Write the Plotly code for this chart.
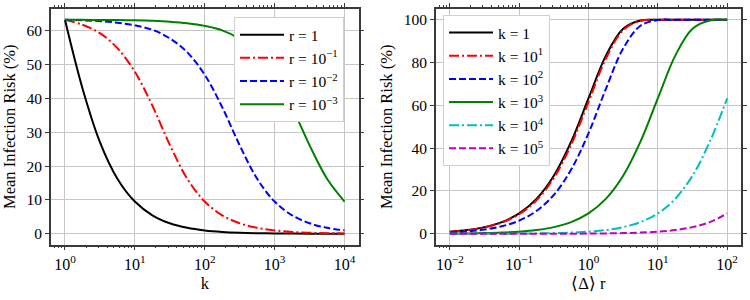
import plotly.graph_objects as go

# ---------------- data ----------------
K_VALUES = [1, 1.778, 3.162, 5.623, 10, 17.78, 31.62, 56.23, 100, 177.8, 316.2,
            562.3, 1000, 1778, 3162, 5623, 10000]
RISK_R1 = [63.21, 43.01, 27.11, 16.29, 9.52, 5.47, 3.11, 1.76, 0.995, 0.561, 0.316,
           0.178, 0.0999, 0.0562, 0.0316, 0.0178, 0.0100]
RISK_R1E1 = [63.21, 61.74, 59.27, 54.84, 47.86, 37.87, 26.28, 16.25, 9.52, 5.47, 3.11,
             1.76, 0.995, 0.561, 0.316, 0.178, 0.0999]
RISK_R1E2 = [63.21, 63.07, 62.81, 62.36, 61.56, 60.25, 57.73, 53.59, 46.95, 37.39, 26.14,
             16.24, 9.52, 5.47, 3.11, 1.76, 0.995]
RISK_R1E3 = [63.21, 63.20, 63.17, 63.13, 63.05, 62.90, 62.65, 62.20, 61.41, 60.10, 57.59,
             53.47, 46.86, 37.34, 26.13, 16.24, 9.52]
LEFT_NAMES = ["r = 1", "r = 10<sup>\u22121</sup>", "r = 10<sup>\u22122</sup>", "r = 10<sup>\u22123</sup>"]

DR_VALUES = [0.01, 0.01778, 0.03162, 0.05623, 0.1, 0.1778, 0.3162, 0.5623, 1, 1.778,
             3.162, 5.623, 10, 17.78, 31.62, 56.23, 100]
RISK_K1 = [0.995, 1.763, 3.113, 5.468, 9.516, 16.29, 27.11, 43.01, 63.21, 83.11,
           95.77, 99.64, 99.995, 100, 100, 100, 100]
RISK_K1E1 = [0.952, 1.686, 2.978, 5.235, 9.119, 15.64, 26.09, 41.59, 61.56, 81.74,
             95.14, 99.54, 99.99, 100, 100, 100, 100]
RISK_K1E2 = [0.632, 1.121, 1.985, 3.502, 6.143, 10.66, 18.17, 29.99, 46.95, 67.61,
             86.53, 97.17, 99.82, 100, 100, 100, 100]
RISK_K1E3 = [0.100, 0.178, 0.316, 0.561, 0.995, 1.763, 3.113, 5.468, 9.516, 16.29,
             27.11, 43.01, 63.21, 83.11, 95.77, 99.64, 99.995]
RISK_K1E4 = [0.010, 0.018, 0.032, 0.056, 0.100, 0.178, 0.316, 0.561, 0.995, 1.763,
             3.113, 5.468, 9.516, 16.29, 27.11, 43.01, 63.21]
RISK_K1E5 = [0.001, 0.002, 0.003, 0.006, 0.010, 0.018, 0.032, 0.056, 0.0999, 0.178,
             0.316, 0.561, 0.995, 1.763, 3.113, 5.468, 9.516]
RIGHT_NAMES = ["k = 1", "k = 10<sup>1</sup>", "k = 10<sup>2</sup>", "k = 10<sup>3</sup>",
               "k = 10<sup>4</sup>", "k = 10<sup>5</sup>"]

LEFT_TICKS = [1, 10, 100, 1000, 10000]
LEFT_TICKTEXT = ["10<sup>0</sup>", "10<sup>1</sup>", "10<sup>2</sup>", "10<sup>3</sup>", "10<sup>4</sup>"]
RIGHT_TICKS = [0.01, 0.1, 1, 10, 100]
RIGHT_TICKTEXT = ["10<sup>\u22122</sup>", "10<sup>\u22121</sup>", "10<sup>0</sup>", "10<sup>1</sup>", "10<sup>2</sup>"]

# ---------------- styles ----------------
FONT = "Liberation Serif"
DASHDOT = "10px,3px,2px,3px"
DASH = "7px,3px"
LEFT_STYLES = [("#000000", "solid"), ("#ff0000", DASHDOT), ("#0000ff", DASH), ("#008000", "solid")]
RIGHT_STYLES = [("#000000", "solid"), ("#ff0000", DASHDOT), ("#0000ff", DASH),
                ("#008000", "solid"), ("#00bfbf", DASHDOT), ("#bf00bf", DASH)]

fig = go.Figure()

for ys, name, (col, dash) in zip([RISK_R1, RISK_R1E1, RISK_R1E2, RISK_R1E3], LEFT_NAMES, LEFT_STYLES):
    fig.add_trace(go.Scatter(x=K_VALUES, y=ys, name=name, mode="lines",
                             line=dict(color=col, dash=dash, width=2, shape="spline", smoothing=1),
                             xaxis="x", yaxis="y", legend="legend"))

for ys, name, (col, dash) in zip([RISK_K1, RISK_K1E1, RISK_K1E2, RISK_K1E3, RISK_K1E4, RISK_K1E5],
                                 RIGHT_NAMES, RIGHT_STYLES):
    fig.add_trace(go.Scatter(x=DR_VALUES, y=ys, name=name, mode="lines",
                             line=dict(color=col, dash=dash, width=2, shape="spline", smoothing=1),
                             xaxis="x2", yaxis="y2", legend="legend2"))


def minor_vals(lo_exp, hi_exp, lo, hi):
    out = []
    for e in range(lo_exp, hi_exp + 1):
        for m in range(2, 10):
            v = m * 10.0 ** e
            if lo <= v <= hi:
                out.append(v)
    return out


AX_COL = "#3a3a3a"
GRID_COL = "#c6c6c6"

common_x = dict(type="log", showline=True, linecolor=AX_COL, linewidth=1.8, mirror="ticks",
                ticks="outside", ticklen=4, tickwidth=1, tickcolor=AX_COL,
                showgrid=True, gridcolor=GRID_COL, gridwidth=1.3, zeroline=False,
                tickfont=dict(family=FONT, size=16, color="#000"), automargin=False,
                title_font=dict(family=FONT, size=16.5, color="#000"), title_standoff=6)
common_y = dict(showline=True, linecolor=AX_COL, linewidth=1.8, mirror="ticks",
                ticks="outside", ticklen=4, tickwidth=1, tickcolor=AX_COL,
                showgrid=True, gridcolor=GRID_COL, gridwidth=1.3, zeroline=False,
                tickfont=dict(family=FONT, size=15.5, color="#000"), automargin=False,
                title_font=dict(family=FONT, size=16.5, color="#000"), title_standoff=7)

fig.update_layout(
    width=750, height=300,
    margin=dict(l=0, r=0, t=0, b=0),
    paper_bgcolor="white", plot_bgcolor="white",
    font=dict(family=FONT, size=15, color="#000"),
    xaxis=dict(common_x, domain=[0.068, 0.478], range=[-0.2, 4.2],
               tickmode="array", tickvals=LEFT_TICKS, ticktext=LEFT_TICKTEXT,
               minor=dict(tickmode="array", tickvals=minor_vals(-1, 3, 0.6, 17000),
                          ticks="outside", ticklen=2, tickwidth=1, tickcolor=AX_COL, showgrid=False),
               title_text="k", anchor="y"),
    yaxis=dict(common_y, domain=[0.185, 0.97], range=[-3.16, 66.4],
               tickmode="array", tickvals=[0, 10, 20, 30, 40, 50, 60],
               title_text="Mean Infection Risk (%)", anchor="x"),
    xaxis2=dict(common_x, domain=[0.5813, 0.988], range=[-2.2, 2.2],
                tickmode="array", tickvals=RIGHT_TICKS, ticktext=RIGHT_TICKTEXT,
                minor=dict(tickmode="array", tickvals=minor_vals(-3, 2, 0.006, 170),
                           ticks="outside", ticklen=2, tickwidth=1, tickcolor=AX_COL, showgrid=False),
                title_text="\u27e8\u0394\u27e9 r", anchor="y2"),
    yaxis2=dict(common_y, domain=[0.185, 0.97], range=[-5, 105],
                tickmode="array", tickvals=[0, 20, 40, 60, 80, 100],
                title_text="Mean Infection Risk (%)", anchor="x2"),
    legend=dict(x=0.312, y=0.943, xanchor="left", yanchor="top",
                bgcolor="#ffffff", bordercolor="#d0d0d0", borderwidth=1,
                font=dict(family=FONT, size=15.5, color="#000"), itemwidth=44),
    legend2=dict(x=0.5907, y=0.95, xanchor="left", yanchor="top",
                 bgcolor="#ffffff", bordercolor="#d0d0d0", borderwidth=1,
                 font=dict(family=FONT, size=15.5, color="#000"), itemwidth=44),
)

fig.write_html("out.html", config={"displayModeBar": False},
               post_script="document.body.style.margin='0';document.body.style.padding='0';")
